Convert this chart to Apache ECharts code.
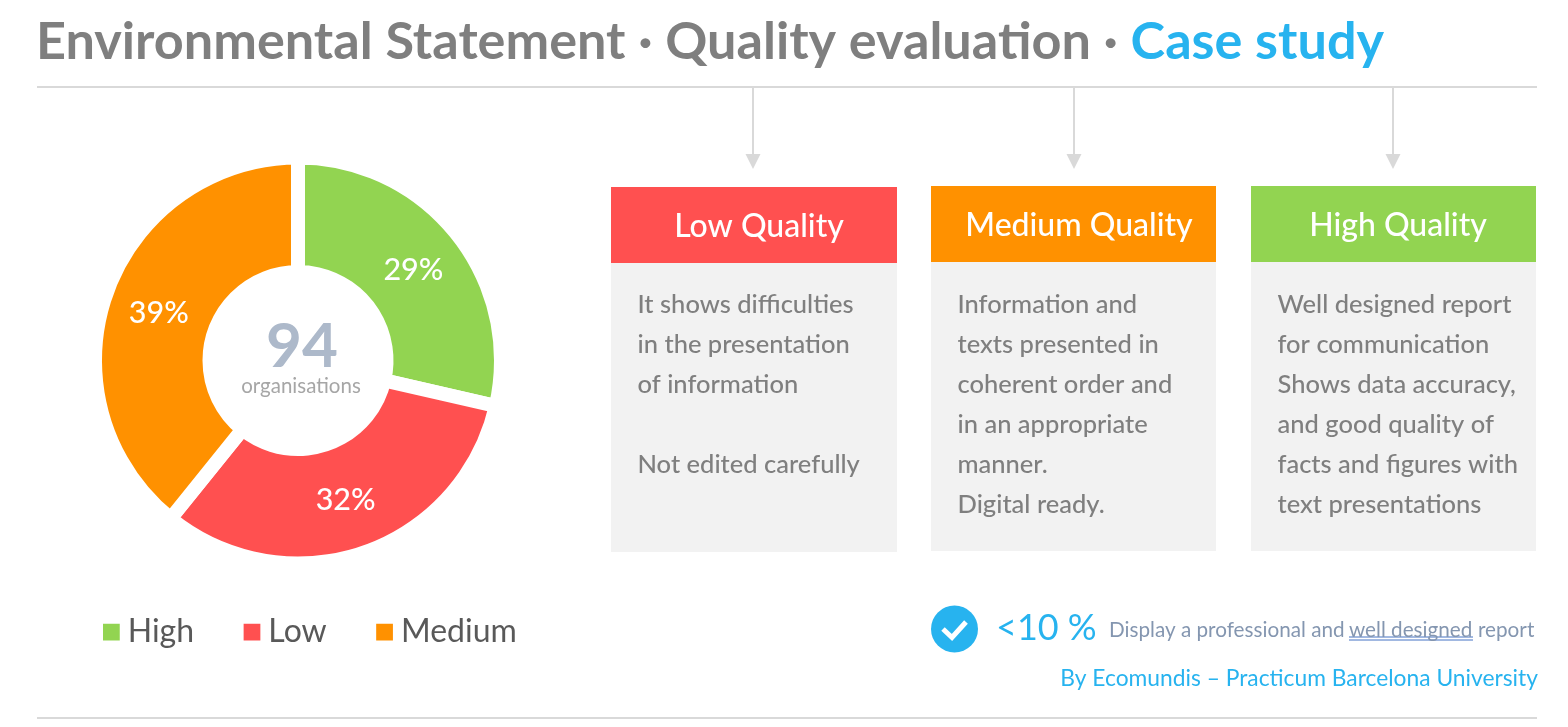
<!DOCTYPE html>
<html><head><meta charset="utf-8">
<style>html,body{margin:0;padding:0;background:#fff}#c{width:1568px;height:727px}</style>
<script src="https://cdn.jsdelivr.net/npm/echarts@6/dist/echarts.min.js"></script>
</head><body><div id="c"></div>
<script>
const categories = ['High', 'Low', 'Medium'];
const shares = [28.6, 32.2, 39.2];
const colors = ['#92d451', '#ff5050', '#ff9100'];
const titleParts = ['Environmental Statement · Quality evaluation · ', 'Case study'];
const centerValue = '94';
const centerLabel = 'organisations';
const lowHeading = 'Low Quality';
const lowLines = ['It shows difficulties', 'in the presentation', 'of information', '', 'Not edited carefully'];
const mediumHeading = 'Medium Quality';
const mediumLines = ['Information and', 'texts presented in', 'coherent order and', 'in an appropriate', 'manner.', 'Digital ready.'];
const highHeading = 'High Quality';
const highLines = ['Well designed report', 'for communication', 'Shows data accuracy,', 'and good quality of', 'facts and figures with', 'text presentations'];
const statValue = '<10 %';
const noteParts = ['Display a professional and ', 'well designed', ' report'];
const credit = 'By Ecomundis – Practicum Barcelona University';

const FF = 'Lato, Carlito, sans-serif';
const BLUE = '#27b3ef', GREY = '#7f7f7f', RULE = '#d9d9d9';
const labelNudge = [[-1, 2], [-1, -1], [1, 2]];
const g = [];
const txt = (text, x, y, size, fill, o = {}) => g.push({ type: 'text', z: 10, style: {
  text, x, y, fill, fontFamily: FF, fontSize: size, fontWeight: o.weight || 'normal',
  textAlign: o.align || 'left', textVerticalAlign: 'middle' } });
const rect = (x, y, w, h, fill) => g.push({ type: 'rect', shape: { x, y, width: w, height: h }, style: { fill } });
const line = (x1, y1, x2, y2, stroke, w) => g.push({ type: 'line', shape: { x1, y1, x2, y2 }, style: { stroke, lineWidth: w } });

line(37, 87, 1537, 87, RULE, 2);
line(37, 718, 1537, 718, RULE, 2);

[
  { x: 611, top: 187, w: 286, bottom: 552, ax: 753, c: colors[1], h: lowHeading, lines: lowLines, tx: 759 },
  { x: 931, top: 186, w: 285, bottom: 551, ax: 1074, c: colors[2], h: mediumHeading, lines: mediumLines, tx: 1079 },
  { x: 1251, top: 186, w: 285, bottom: 551, ax: 1393, c: colors[0], h: highHeading, lines: highLines, tx: 1398 }
].forEach(p => {
  line(p.ax, 87, p.ax, 156, RULE, 2);
  g.push({ type: 'polygon', shape: { points: [[p.ax - 7.5, 154], [p.ax + 7.5, 154], [p.ax, 169]] }, style: { fill: RULE } });
  rect(p.x, p.top, p.w, p.bottom - p.top, '#f2f2f2');
  rect(p.x, p.top, p.w, 76, p.c);
  txt(p.h, p.tx, p.top + 39.5, 32, '#fff', { align: 'center', weight: 500 });
  p.lines.forEach((l, i) => { if (l) txt(l, p.x + 26.5, 305 + i * 40, 25.5, GREY, { weight: 500 }); });
});

txt(centerValue, 302, 347, 62, '#adb9ca', { weight: 'bold', align: 'center' });
txt(centerLabel, 301, 386, 20.5, '#a6a6a6', { align: 'center' });

g.push({ type: 'circle', shape: { cx: 954.5, cy: 629, r: 23.5 }, style: { fill: BLUE } });
g.push({ type: 'polyline', z: 5, shape: { points: [[943, 629], [952, 637.5], [966, 622]] }, style: { stroke: '#fff', lineWidth: 5, fill: null } });
txt(statValue, 996, 628, 36, BLUE);
txt(noteParts[0], 1109, 630, 20.7, '#8496b0');
txt(noteParts[1], 1349, 630, 20.7, '#8496b0');
txt(noteParts[2].trim(), 1478, 630, 20.7, '#8496b0');
line(1349, 637, 1473, 637, '#4472c4', 1);
line(1349, 640, 1473, 640, '#4472c4', 1);
txt(credit, 1538, 679, 22.8, BLUE, { align: 'right' });

const chart = echarts.init(document.getElementById('c'), null, { renderer: 'canvas' });
chart.setOption({
  animation: false,
  backgroundColor: '#fff',
  title: {
    left: 36, top: 10, padding: 0,
    text: '{a|' + titleParts[0] + '}{b|' + titleParts[1] + '}',
    textStyle: { rich: {
      a: { fontFamily: FF, fontSize: 52.2, fontWeight: 'bold', color: GREY, lineHeight: 64 },
      b: { fontFamily: FF, fontSize: 52.2, fontWeight: 'bold', color: BLUE, lineHeight: 64 }
    } }
  },
  legend: {
    left: 101, top: 616, padding: 0, itemGap: 47.5, itemWidth: 18.75, itemHeight: 18.75, icon: 'rect',
    data: categories,
    textStyle: { fontFamily: FF, fontSize: 32, color: '#595959', padding: [0, 0, 0, 2] }
  },
  series: [{
    type: 'pie', center: [298, 360.5], radius: [88.5, 203], startAngle: 90, clockwise: true,
    percentPrecision: 0, avoidLabelOverlap: false, silent: true,
    data: categories.map((name, i) => ({
      name, value: shares[i], itemStyle: { color: colors[i] }, label: { offset: labelNudge[i] }
    })),
    itemStyle: { borderColor: '#fff', borderWidth: 14, borderJoin: 'miter' },
    label: { position: 'inside', formatter: '{d}%', color: '#fff', fontFamily: FF, fontSize: 30.5, fontWeight: 500 },
    labelLine: { show: false }
  }],
  graphic: g
});
</script></body></html>
